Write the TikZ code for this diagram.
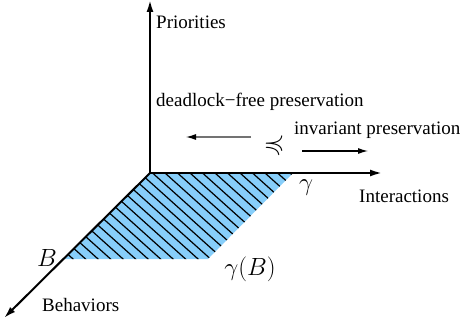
\documentclass[tikz,border=0pt]{standalone}
\usepackage{amssymb}
\usepackage{fontspec}
\setmainfont{Liberation Serif}
\usetikzlibrary{arrows.meta}
\definecolor{hatchblue}{RGB}{135,206,250}
\begin{document}
\begin{tikzpicture}[x=1pt,y=-1pt,
  axis/.style={line width=2pt,-{Latex[length=12pt,width=7pt]}},
  thinarrow/.style={line width=1.1pt,-{Latex[length=10pt,width=6pt]}},
  lbl/.style={font=\fontsize{19}{22}\selectfont,inner sep=0pt},
  mlbl/.style={font=\fontsize{25}{30}\selectfont,inner sep=0pt}]
\useasboundingbox (0,0) rectangle (463,326);
% corners
\coordinate (O) at (150,173);
\coordinate (G) at (293,173);
\coordinate (GB) at (208,259);
\coordinate (Bc) at (63,259);
\coordinate (Ptop) at (150,0);
\coordinate (Iend) at (382,173);
\coordinate (Bend) at (4,318);
% parallelogram
\fill[hatchblue] (O) -- (G) -- (GB) -- (Bc) -- cycle;
\begin{scope}
\clip (O) -- (G) -- (GB) -- (Bc) -- cycle;
\foreach \i in {0,...,30} {
  \draw[line width=1.2pt] ({-60+12.5*\i-60},{173-54}) -- ({-60+12.5*\i+160},{173+144});
}
\end{scope}
% axes
\draw[axis] (O) -- (Ptop);
\draw[axis] (O) -- (Iend);
\draw[axis] (O) -- (Bend);
% labels
\node[lbl,anchor=west] (prio) at (156,22) {Priorities};
\node[lbl,anchor=west] (dfp) at (156,102) {deadlock−free preservation};
\node[lbl,anchor=west] (ip) at (294,130) {invariant preservation};
\node[lbl,anchor=west] (inter) at (359,196) {Interactions};
\node[lbl,anchor=west] (behav) at (42,305) {Behaviors};
\node[font=\fontsize{27}{30}\selectfont,inner sep=0pt] (prec) at (274,145) {$\preccurlyeq$};
\node[mlbl] (gam) at (306,188) {$\gamma$};
\node[mlbl] (bl) at (47,258) {$B$};
\node[mlbl] (gbl) at (250,269) {$\gamma(B)$};
\coordinate (la1) at (251,137);
\coordinate (la2) at (186,137);
\coordinate (ra1) at (302,151);
\coordinate (ra2) at (368,151);
\draw[thinarrow,draw=black!55,-{Latex[length=10pt,width=6pt,black]}] (la1) -- (la2);
\draw[thinarrow] (ra1) -- (ra2);
\end{tikzpicture}
\end{document}
